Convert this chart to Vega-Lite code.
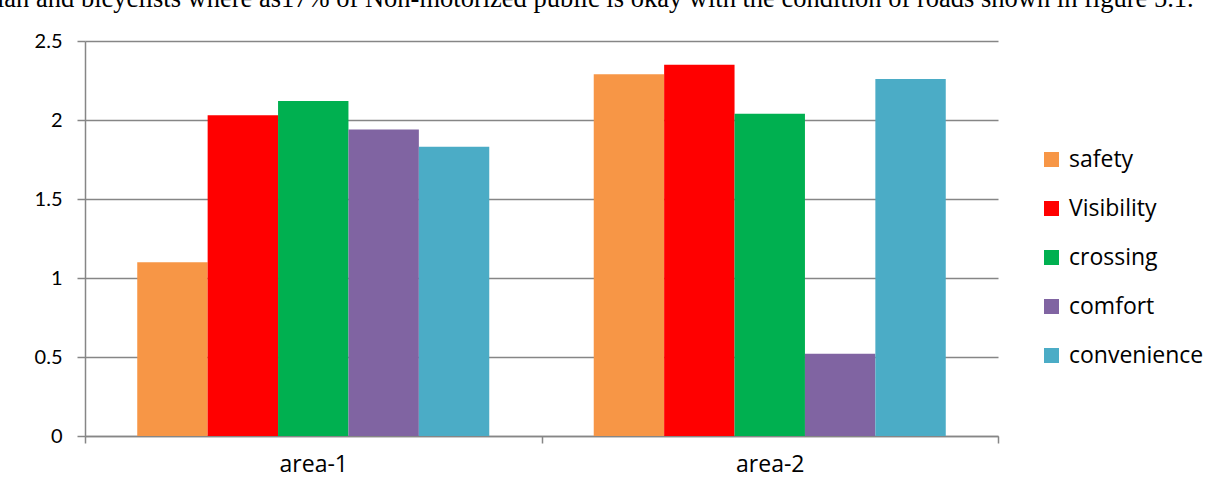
{
  "$schema": "https://vega.github.io/schema/vega-lite/v6.json",
  "autosize": "none",
  "width": 913,
  "height": 395,
  "padding": {"left": 85, "top": 41, "right": 223, "bottom": 59},
  "background": "white",
  "title": {
    "text": "ian and bicyclists where as17% of Non-motorized public is okay with the condition of roads shown in figure 5.1.",
    "anchor": "start",
    "frame": "group",
    "dx": -88,
    "offset": -2,
    "baseline": "alphabetic",
    "font": "Liberation Serif",
    "fontSize": 26.5,
    "fontWeight": "normal",
    "color": "black"
  },
  "data": {
    "values": [
      {"area": "area-1", "metric": "safety", "value": 1.10},
      {"area": "area-1", "metric": "Visibility", "value": 2.03},
      {"area": "area-1", "metric": "crossing", "value": 2.12},
      {"area": "area-1", "metric": "comfort", "value": 1.94},
      {"area": "area-1", "metric": "convenience", "value": 1.83},
      {"area": "area-2", "metric": "safety", "value": 2.29},
      {"area": "area-2", "metric": "Visibility", "value": 2.35},
      {"area": "area-2", "metric": "crossing", "value": 2.04},
      {"area": "area-2", "metric": "comfort", "value": 0.52},
      {"area": "area-2", "metric": "convenience", "value": 2.26}
    ]
  },
  "mark": {"type": "bar"},
  "encoding": {
    "x": {
      "field": "area",
      "type": "nominal",
      "scale": {"paddingInner": 0, "paddingOuter": 0},
      "axis": {
        "title": null,
        "labelAngle": 0,
        "labelFont": "Open Sans",
        "labelFontSize": 23,
        "labelColor": "black",
        "labelPadding": 10,
        "domainColor": "#868686",
        "domainWidth": 1.5,
        "tickColor": "#868686",
        "tickWidth": 1.5,
        "tickSize": 7,
        "tickBand": "extent"
      }
    },
    "xOffset": {
      "field": "metric",
      "type": "nominal",
      "sort": ["safety", "Visibility", "crossing", "comfort", "convenience"],
      "scale": {"paddingInner": 0, "paddingOuter": 0.742}
    },
    "y": {
      "field": "value",
      "type": "quantitative",
      "scale": {"domain": [0, 2.5]},
      "axis": {
        "title": null,
        "values": [0, 0.5, 1, 1.5, 2, 2.5],
        "format": "~g",
        "labelFont": "Lato",
        "labelFontSize": 20,
        "labelColor": "black",
        "labelPadding": 15,
        "domainColor": "#868686",
        "domainWidth": 1.5,
        "tickColor": "#868686",
        "tickWidth": 1.5,
        "tickSize": 8,
        "gridColor": "#868686",
        "gridWidth": 1.5
      }
    },
    "color": {
      "field": "metric",
      "type": "nominal",
      "scale": {
        "domain": ["safety", "Visibility", "crossing", "comfort", "convenience"],
        "range": ["#F79646", "#FF0000", "#00B050", "#8064A2", "#4BACC6"]
      },
      "legend": {
        "title": null,
        "orient": "none",
        "legendX": 955,
        "legendY": 107,
        "symbolType": "square",
        "symbolSize": 225,
        "symbolStrokeWidth": 0,
        "labelFont": "Open Sans",
        "labelFontSize": 23,
        "labelColor": "black",
        "labelOffset": 6,
        "rowPadding": 25
      }
    }
  },
  "config": {"view": {"stroke": null}}
}
